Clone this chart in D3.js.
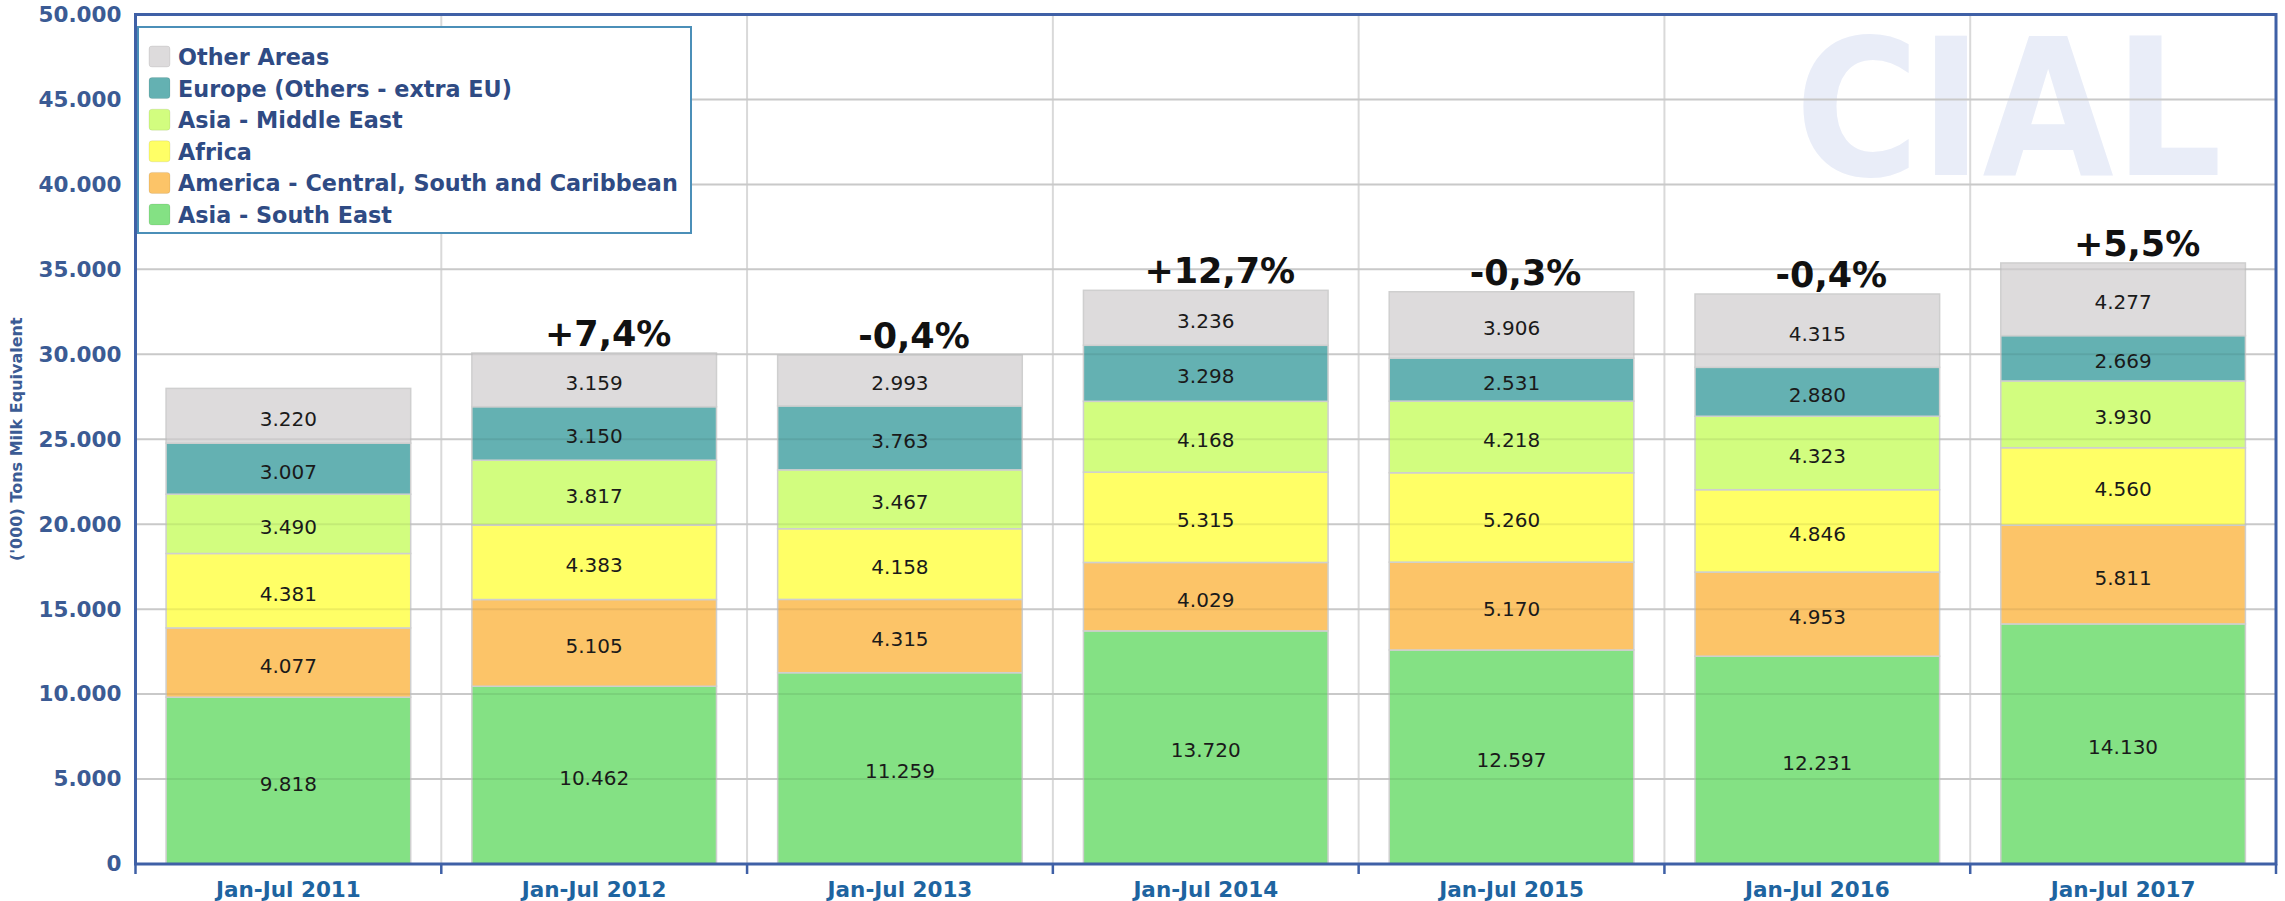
<!DOCTYPE html>
<html><head><meta charset="utf-8">
<script src="https://cdn.jsdelivr.net/npm/d3@7"></script>
<style>html,body{margin:0;padding:0;background:#fff;}svg{display:block;}</style>
</head><body>
<script>
const categories = ["Jan-Jul 2011","Jan-Jul 2012","Jan-Jul 2013","Jan-Jul 2014","Jan-Jul 2015","Jan-Jul 2016","Jan-Jul 2017"];
const seriesNames = ["Asia - South East","America - Central, South and Caribbean","Africa","Asia - Middle East","Europe (Others - extra EU)","Other Areas"];
const asiaSouthEast = [9818,10462,11259,13720,12597,12231,14130];
const america = [4077,5105,4315,4029,5170,4953,5811];
const africa = [4381,4383,4158,5315,5260,4846,4560];
const asiaMiddleEast = [3490,3817,3467,4168,4218,4323,3930];
const europeOthers = [3007,3150,3763,3298,2531,2880,2669];
const otherAreas = [3220,3159,2993,3236,3906,4315,4277];
const changeLabels = ["","+7,4%","-0,4%","+12,7%","-0,3%","-0,4%","+5,5%"];
const yTicks = [0,5000,10000,15000,20000,25000,30000,35000,40000,45000,50000];
const colors = ["#84e184","#fcc468","#ffff66","#d2fd7f","#64b1b2","#dddbdc"];

(function(){
const seriesValues = [asiaSouthEast, america, africa, asiaMiddleEast, europeOthers, otherAreas];
const rows = categories.map((c,i)=>{const r={cat:c}; seriesNames.forEach((s,j)=>r[s]=seriesValues[j][i]); return r;});

const W=2285,H=901;
const m={left:135.5,right:2276,top:14.5,bottom:864};
const svg=d3.select("body").append("svg").attr("width",W).attr("height",H);
const loc=d3.formatLocale({decimal:",",thousands:".",grouping:[3],currency:["",""]});
const fmt=loc.format(",");

const x=d3.scaleBand().domain(categories).range([m.left,m.right]).paddingInner(0.2).paddingOuter(0.1);
const y=d3.scaleLinear().domain([0,50000]).range([m.bottom,m.top]);

// watermark
svg.append("text").attr("x",1795).attr("y",175).attr("textLength",427).attr("lengthAdjust","spacingAndGlyphs")
  .style("font-family","DejaVu Sans").style("font-weight","bold").style("font-size","190px").attr("fill","#e9edf8").text("CIAL");

svg.append("g").selectAll("line").data(yTicks.slice(1)).join("line")
  .attr("x1",m.left).attr("x2",m.right).attr("y1",d=>y(d)).attr("y2",d=>y(d))
  .attr("stroke","#d9d9d9").attr("stroke-width",2);
const bounds=categories.slice(1).map(c=>x(c)-x.step()*x.paddingInner()/2);
svg.append("g").selectAll("line").data(bounds).join("line")
  .attr("x1",d=>d).attr("x2",d=>d).attr("y1",m.top).attr("y2",m.bottom)
  .attr("stroke","#d9d9d9").attr("stroke-width",2);

const stack=d3.stack().keys(seriesNames)(rows);
const g=svg.append("g");
stack.forEach((layer,j)=>{
  g.append("g").selectAll("rect").data(layer).join("rect")
    .attr("x",d=>x(d.data.cat)).attr("width",x.bandwidth())
    .attr("y",d=>y(d[1])).attr("height",d=>y(d[0])-y(d[1]))
    .attr("fill",colors[j]).attr("stroke","#cfcfcf").attr("stroke-width",1.5);
});
svg.append("g").selectAll("line").data(yTicks.slice(1)).join("line")
  .attr("x1",m.left).attr("x2",m.right).attr("y1",d=>y(d)).attr("y2",d=>y(d))
  .attr("stroke","rgba(0,0,0,0.07)").attr("stroke-width",2);

stack.forEach((layer,j)=>{
  g.append("g").selectAll("text").data(layer).join("text")
    .attr("x",d=>x(d.data.cat)+x.bandwidth()/2).attr("y",d=>(y(d[0])+y(d[1]))/2).attr("dy","0.5em")
    .attr("text-anchor","middle").style("font-family","DejaVu Sans").style("font-size","20px").attr("fill","#1a1a1a")
    .text(d=>fmt(d[1]-d[0]));
});

const topLayer=stack[stack.length-1];
svg.append("g").selectAll("text").data(topLayer).join("text")
  .attr("x",(d)=>x(d.data.cat)+x.bandwidth()/2+14).attr("y",d=>y(d[1])-7)
  .attr("text-anchor","middle").style("font-family","DejaVu Sans").style("font-weight","bold").style("font-size","35px").attr("fill","#111")
  .text((d,i)=>changeLabels[i]);

svg.append("rect").attr("x",m.left).attr("y",m.top).attr("width",m.right-m.left).attr("height",m.bottom-m.top)
  .attr("fill","none").attr("stroke","#3f60a6").attr("stroke-width",3);

const yAxis=d3.axisLeft(y).tickValues(yTicks).tickFormat(d=>fmt(d)).tickSize(0).tickPadding(14);
const ya=svg.append("g").attr("transform",`translate(${m.left},0)`).call(yAxis);
ya.select(".domain").remove();
ya.selectAll("text").style("font-family","DejaVu Sans").style("font-weight","bold").style("font-size","21.5px").attr("fill","#3b5b94");

const xAxis=d3.axisBottom(x).tickSize(0).tickPadding(18);
const xa=svg.append("g").attr("transform",`translate(0,${m.bottom})`).call(xAxis);
xa.select(".domain").remove();
xa.selectAll("text").style("font-family","DejaVu Sans").style("font-weight","bold").style("font-size","21.5px").attr("fill","#1e64a0");
svg.append("g").selectAll("line").data([m.left,...bounds,m.right]).join("line")
  .attr("x1",d=>d).attr("x2",d=>d).attr("y1",m.bottom).attr("y2",m.bottom+10).attr("stroke","#3f60a6").attr("stroke-width",2.5);

svg.append("text").attr("transform",`translate(22,${(m.top+m.bottom)/2}) rotate(-90)`).attr("text-anchor","middle")
  .style("font-family","DejaVu Sans").style("font-weight","bold").style("font-size","16px").attr("fill","#3b5b94")
  .text("('000) Tons Milk Equivalent");

const lg=svg.append("g");
lg.append("rect").attr("x",138).attr("y",27).attr("width",553).attr("height",206).attr("fill","#fff").attr("stroke","#4b8fb8").attr("stroke-width",2);
const legendOrder=seriesNames.map((s,j)=>({s,c:colors[j]})).reverse();
const li=lg.selectAll("g.li").data(legendOrder).join("g").attr("transform",(d,i)=>`translate(149,${57+i*31.6})`);
li.append("rect").attr("x",0).attr("y",-11).attr("width",21).attr("height",21).attr("rx",3).attr("fill",d=>d.c).attr("stroke","rgba(0,0,0,0.08)");
const lt=li.append("text").attr("x",29).attr("dy","0.36em").style("font-family","DejaVu Sans").style("font-weight","bold").style("font-size","20px").attr("fill","#2f4b84").text(d=>d.s);
// fit legend font so the longest entry spans the legend box width
let maxLen=0; lt.each(function(){maxLen=Math.max(maxLen,this.getComputedTextLength());});
if(maxLen>0){lt.style("font-size",(20*500/maxLen).toFixed(2)+"px");}
})();
</script>
</body></html>
